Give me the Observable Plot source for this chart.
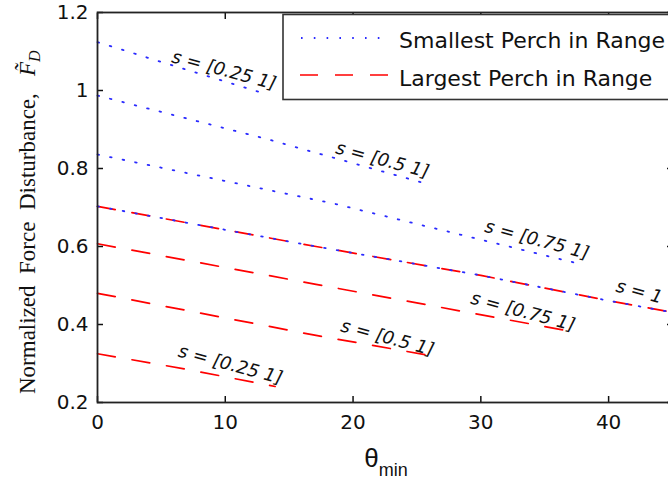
<!DOCTYPE html>
<html><head><meta charset="utf-8">
<script src="https://cdn.jsdelivr.net/npm/d3@7"></script>
<script src="https://cdn.jsdelivr.net/npm/@observablehq/plot@0.6"></script>
<style>
html,body{margin:0;padding:0;background:#fff;overflow:hidden;width:668px;height:483px}
#chart{position:relative;width:668px;height:483px;overflow:hidden}
#chart svg{max-width:none !important;position:absolute;left:0;top:0}
</style></head><body><div id="chart"></div>
<script>
// Tick values
const xTicks = [0, 10, 20, 30, 40];
const yTicks = [0.2, 0.4, 0.6, 0.8, 1, 1.2];

// Smallest perch in range (blue dotted): [theta_min, F_D]
const smallS025 = [[0, 1.124], [6.5, 1.058], [13.1, 0.992]];
const smallS05  = [[0, 0.987], [13.2, 0.876], [25.4, 0.764]];
const smallS075 = [[0, 0.836], [18.5, 0.710], [37.9, 0.554]];
const smallS1   = [[0, 0.703], [17.1, 0.600], [30, 0.526], [40, 0.461], [45, 0.431]];

// Largest perch in range (red dashed)
const largeS025 = [[0, 0.325], [7, 0.285], [13.9, 0.241]];
const largeS05  = [[0, 0.480], [17.1, 0.372], [26.1, 0.320]];
const largeS075 = [[0, 0.607], [17.1, 0.503], [37.1, 0.382]];
const largeS1   = [[0, 0.703], [17.1, 0.600], [30, 0.526], [40, 0.461], [45, 0.431]];

// Curve labels
const labelText  = ["s = [0.25 1]", "s = [0.5 1]", "s = [0.75 1]", "s = 1", "s = [0.75 1]", "s = [0.5 1]", "s = [0.25 1]"];
const labelTheta = [9.9, 22.3, 34.4, 42.4, 33.3, 22.7, 10.4];
const labelValue = [1.052, 0.822, 0.617, 0.484, 0.433, 0.366, 0.297];

const legendLabels = ["Smallest Perch in Range", "Largest Perch in Range"];

const toRows = (arr, name) => arr.map(([theta, value]) => ({theta, value, series: name}));
const blueRows = [
  ...toRows(smallS025, "s025"), ...toRows(smallS05, "s05"),
  ...toRows(smallS075, "s075"), ...toRows(smallS1, "s1")
];
const redRows = [
  ...toRows(largeS025, "s025"), ...toRows(largeS05, "s05"),
  ...toRows(largeS075, "s075"), ...toRows(largeS1, "s1")
];
const labels = labelText.map((t, i) => ({text: t, theta: labelTheta[i], value: labelValue[i]}));

const BLUE = "#2a2aff", RED = "#ff0000";
const RED_DASH = "18,17", BLUE_DOT = "1.6,11.2";

const plot = Plot.plot({
  width: 680,
  height: 483,
  marginLeft: 97,
  marginRight: 8,
  marginTop: 12,
  marginBottom: 81,
  x: {domain: [0, 45]},
  y: {domain: [0.2, 1.2]},
  style: {fontFamily: "DejaVu Sans", fontSize: "20px", color: "#111", background: "#fff", maxWidth: "none"},
  marks: [
    Plot.line(redRows, {x: "theta", y: "value", z: "series", stroke: RED, strokeWidth: 1.7, strokeDasharray: RED_DASH}),
    Plot.line(blueRows, {x: "theta", y: "value", z: "series", stroke: BLUE, strokeWidth: 1.8, strokeDasharray: BLUE_DOT}),
    Plot.text(labels, {x: "theta", y: "value", text: "text", rotate: 15,
      fontFamily: "DejaVu Sans", fontStyle: "italic", fontSize: 18, fill: "#111"}),
    Plot.axisX({ticks: xTicks, tickSize: -6, tickPadding: 18, label: null, tickFormat: d => String(d), strokeWidth: 1.5}),
    Plot.axisX({anchor: "top", ticks: xTicks, tickSize: -6, tickFormat: () => "", label: null, strokeWidth: 1.5}),
    Plot.axisY({ticks: yTicks, tickSize: -6, tickPadding: 15, label: null, tickFormat: d => String(d), strokeWidth: 1.5}),
    Plot.axisY({anchor: "right", ticks: yTicks, tickSize: -6, tickFormat: () => "", label: null, strokeWidth: 1.5}),
    Plot.frame({stroke: "#222", strokeWidth: 1.8})
  ]
});
document.getElementById("chart").appendChild(plot);

// Overlay SVG for legend and axis titles
const ov = d3.select("#chart").append("svg")
  .attr("width", 668).attr("height", 483).attr("viewBox", "0 0 668 483");

// Legend
ov.append("rect").attr("x", 283).attr("y", 14.5).attr("width", 420).attr("height", 85)
  .attr("fill", "#fff").attr("stroke", "#333").attr("stroke-width", 1.6);
ov.append("path").attr("d", "M301,38H388").attr("fill", "none")
  .attr("stroke", BLUE).attr("stroke-width", 1.8).attr("stroke-dasharray", BLUE_DOT);
ov.append("path").attr("d", "M300,75H390").attr("fill", "none")
  .attr("stroke", RED).attr("stroke-width", 1.7).attr("stroke-dasharray", RED_DASH);
ov.selectAll("text.leg").data(legendLabels).join("text").attr("class", "leg")
  .attr("x", 399).attr("y", (d, i) => i === 0 ? 48 : 86).attr("text-anchor", "start")
  .attr("font-family", "DejaVu Sans").attr("font-size", 22).attr("fill", "#111")
  .text(d => d);

// X label: theta_min
const xl = ov.append("text").attr("x", 386).attr("y", 467)
  .attr("text-anchor", "middle").attr("font-family", "Liberation Sans").attr("fill", "#111");
xl.append("tspan").attr("font-size", 26).text("θ");
xl.append("tspan").attr("font-size", 18).attr("dy", 9).text("min");

// Y label
const yl = ov.append("text").attr("transform", "translate(35,394) rotate(-90)")
  .attr("text-anchor", "start").attr("font-family", "Liberation Serif").attr("font-size", 23).attr("fill", "#111")
  .attr("style", "white-space:pre");
yl.append("tspan").text("Normalized  Force  Disturbance,   ");
yl.append("tspan").attr("font-style", "italic").text("F\u0303");
yl.append("tspan").attr("font-style", "italic").attr("font-size", 16).attr("dy", 5).text("D");
</script>
</body></html>
